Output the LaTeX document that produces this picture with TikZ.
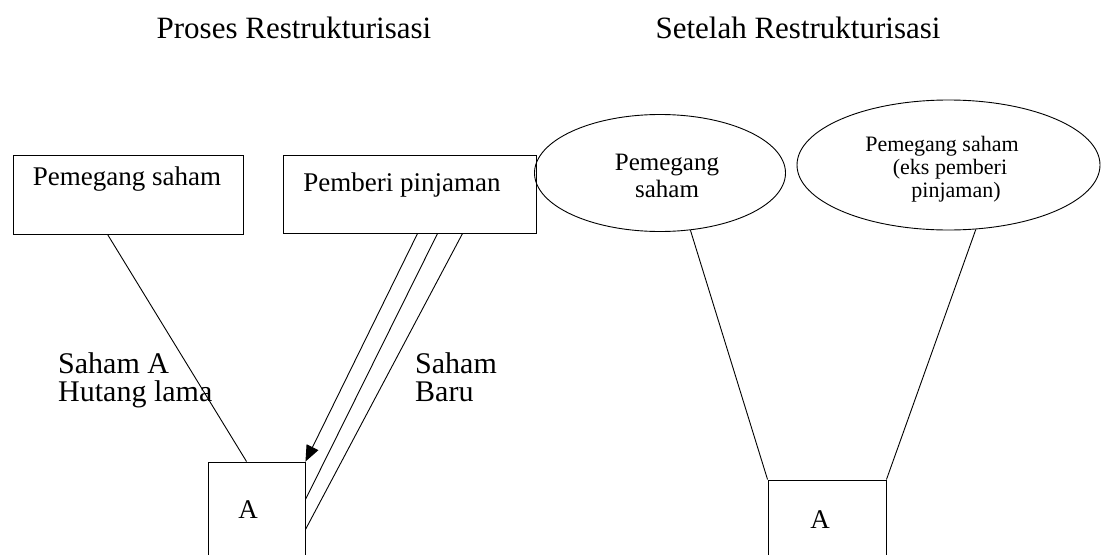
\documentclass[tikz,border=0pt]{standalone}
\usepackage{fontspec}
\setmainfont{Liberation Serif}
\usetikzlibrary{arrows.meta,shapes.geometric}
\begin{document}
\begin{tikzpicture}[x=1pt,y=-1pt,
  ln/.style={line width=0.9pt},
  boxnode/.style={draw, line width=0.9pt, rectangle, inner sep=0pt},
  ellnode/.style={draw, line width=0.9pt, ellipse, inner sep=0pt},
  txt/.style={inner sep=0pt, anchor=base},
  ttl/.style={txt, font=\fontsize{31}{35}\selectfont},
  boxtxt/.style={txt, font=\fontsize{27}{30}\selectfont},
  e1txt/.style={txt, font=\fontsize{25}{28}\selectfont},
  e2txt/.style={txt, font=\fontsize{22}{25}\selectfont},
  lbl/.style={inner sep=0pt, anchor=base west, font=\fontsize{30}{33}\selectfont},
  lbltop/.style={lbl, text depth=0pt},
  lblbot/.style={lbl, text height=17pt},
  atxt/.style={txt, font=\fontsize{27}{30}\selectfont}
]
\clip (0,0) rectangle (1105,554);
\fill[white] (0,0) rectangle (1105,554);

% titles
\node[ttl] (t1) at (294,38) {Proses Restrukturisasi};
\node[ttl] (t2) at (798,38) {Setelah Restrukturisasi};

% left side boxes
\node[boxnode, minimum width=230pt, minimum height=79pt] (box1) at (128,194.5) {};
\node[boxtxt] (box1t) at (127,185) {Pemegang saham};
\node[boxnode, minimum width=253pt, minimum height=78pt] (box2) at (409.5,194) {};
\node[boxtxt] (box2t) at (402,191) {Pemberi pinjaman};

\node[boxnode, minimum width=97pt, minimum height=138pt] (boxA) at (256.5,531) {};
\node[atxt] (boxAt) at (248,518) {A};

% right side ellipses
\node[ellnode, minimum width=251pt, minimum height=117pt] (e1) at (660,173) {};
\node[e1txt] (e1a) at (667,170) {Pemegang};
\node[e1txt] (e1b) at (667,197) {saham};

\node[ellnode, minimum width=303pt, minimum height=130pt] (e2) at (948.5,165) {};
\node[e2txt] (e2a) at (942,151) {Pemegang saham};
\node[e2txt] (e2b) at (950,174) {(eks pemberi};
\node[e2txt] (e2c) at (956,197) {pinjaman)};

\node[boxnode, minimum width=118pt, minimum height=120pt] (boxR) at (827,540) {};
\node[atxt] (boxRt) at (820,528) {A};

% connectors left
\draw[ln] ([xshift=95pt]box1.south west) -- ([xshift=39pt]boxA.north west);
\draw[ln, -{Triangle[length=16pt,width=13pt]}] ([xshift=135pt]box2.south west) -- (boxA.north east);
\draw[ln] ([xshift=155pt]box2.south west) -- ([yshift=-38pt]boxA.north east);
\draw[ln] ([xshift=180pt]box2.south west) -- ([yshift=-68pt]boxA.north east);

% connectors right
\draw[ln] (e1.-62) -- (boxR.north west);
\draw[ln] (e2.-67.5) -- (boxR.north east);

% labels
\node[lbltop] (l1) at (58,373) {Saham A};
\node[lblbot] (l2) at (58,401) {Hutang lama};
\node[lbltop] (l3) at (415,373) {Saham};
\node[lblbot] (l4) at (415,401) {Baru};
\end{tikzpicture}
\end{document}
